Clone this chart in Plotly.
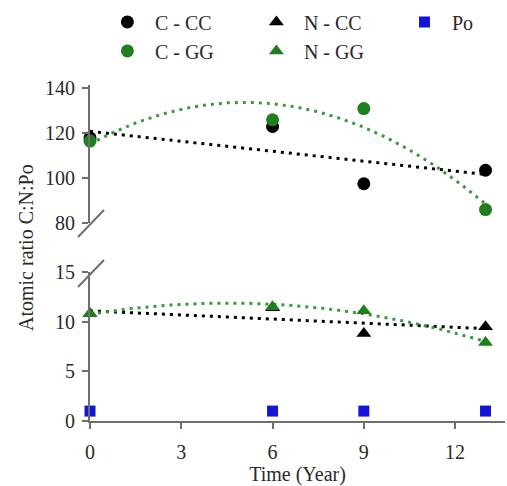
import numpy as np
import plotly.graph_objects as go

years = [0, 6, 9, 13]
c_cc = [118, 123, 97.5, 103.5]
c_gg = [116.5, 126, 131, 86]
n_cc = [10.8, 11.4, 8.8, 9.5]
n_gg = [10.8, 11.5, 11.1, 7.9]
po = [1.0, 1.0, 1.0, 1.0]

BLACK = "#000000"
GREEN = "#1f7f1f"
GREEN_LINE = "#3a9a3a"
BLUE = "#1515d8"
AXC = "#6e6e6e"
FONT = "Liberation Serif, Times New Roman, serif"
TXT = "#2a2a2a"
FS = 20

W, H = 507, 486
ML, MR, MT, MB = 90, 2, 85, 65
PW, PH = W - ML - MR, H - MT - MB
lower_top = (421 - 272) / PH
upper_bot = (421 - 223) / PH

fig = go.Figure()

xs = np.linspace(0, 13, 200)
def fit(vals, deg):
    p = np.polyfit(years, vals, deg)
    return np.polyval(p, xs)

dot = "3px,5px"
fig.add_trace(go.Scatter(x=xs, y=fit(c_cc, 1), mode="lines", yaxis="y2",
                         line=dict(color=BLACK, width=3, dash=dot), showlegend=False, hoverinfo="skip"))
fig.add_trace(go.Scatter(x=xs, y=fit(c_gg, 2), mode="lines", yaxis="y2",
                         line=dict(color=GREEN_LINE, width=3, dash=dot), showlegend=False, hoverinfo="skip"))
fig.add_trace(go.Scatter(x=xs, y=fit(n_cc, 1), mode="lines", yaxis="y",
                         line=dict(color=BLACK, width=3, dash=dot), showlegend=False, hoverinfo="skip"))
fig.add_trace(go.Scatter(x=xs, y=fit(n_gg, 2), mode="lines", yaxis="y",
                         line=dict(color=GREEN_LINE, width=3, dash=dot), showlegend=False, hoverinfo="skip"))

fig.add_trace(go.Scatter(x=years, y=c_cc, mode="markers", name="C - CC", yaxis="y2", cliponaxis=False,
                         marker=dict(symbol="circle", size=13, color=BLACK), legend="legend"))
fig.add_trace(go.Scatter(x=years, y=n_cc, mode="markers", name="N - CC", yaxis="y", cliponaxis=False,
                         marker=dict(symbol="triangle-up", size=13, color=BLACK), legend="legend"))
fig.add_trace(go.Scatter(x=years, y=po, mode="markers", name="Po", yaxis="y", cliponaxis=False,
                         marker=dict(symbol="square", size=11, color=BLUE), legend="legend2"))
fig.add_trace(go.Scatter(x=years, y=c_gg, mode="markers", name="C - GG", yaxis="y2", cliponaxis=False,
                         marker=dict(symbol="circle", size=13, color=GREEN), legend="legend"))
fig.add_trace(go.Scatter(x=years, y=n_gg, mode="markers", name="N - GG", yaxis="y", cliponaxis=False,
                         marker=dict(symbol="triangle-up", size=13, color=GREEN), legend="legend"))

def px2paper(px, py):
    return (px - ML) / PW, (H - MB - py) / PH

shapes = []
for (x0, y0, x1, y1) in [(78, 237, 104, 210), (78, 287, 104, 260)]:
    a = px2paper(x0, y0)
    b = px2paper(x1, y1)
    shapes.append(dict(type="line", xref="paper", yref="paper", x0=a[0], y0=a[1], x1=b[0], y1=b[1],
                       line=dict(color=AXC, width=2)))

axis_common = dict(showline=True, linecolor=AXC, linewidth=2, ticks="outside", ticklen=6,
                   tickcolor=AXC, tickwidth=2, showgrid=False, zeroline=False,
                   tickfont=dict(family=FONT, size=FS, color=TXT))

legend_common = dict(orientation="h", xref="container", yref="container", yanchor="top",
                     xanchor="left", font=dict(family=FONT, size=FS, color=TXT),
                     traceorder="normal", bgcolor="rgba(0,0,0,0)", itemwidth=45)

fig.update_layout(
    width=W, height=H,
    margin=dict(l=ML, r=MR, t=MT, b=MB),
    plot_bgcolor="white", paper_bgcolor="white",
    font=dict(family=FONT, size=FS, color=TXT),
    xaxis=dict(range=[0, 13.64], tickvals=[0, 3, 6, 9, 12], anchor="y", ticklabelstandoff=6,
               title=dict(text="Time (Year)", standoff=0, font=dict(family=FONT, size=FS, color=TXT)),
               **axis_common),
    yaxis=dict(domain=[0, lower_top], range=[0, 15], tickvals=[0, 5, 10, 15], ticklabelstandoff=3,
               **axis_common),
    yaxis2=dict(domain=[upper_bot, 1], range=[80, 141.5], tickvals=[80, 100, 120, 140], anchor="x",
                ticklabelstandoff=3, **axis_common),
    shapes=shapes,
    annotations=[dict(text="Atomic ratio C:N:Po", xref="paper", yref="paper", x=(26 - ML) / PW,
                      y=(H - MB - 248) / PH,
                      textangle=-90, showarrow=False, xanchor="center", yanchor="middle",
                      font=dict(family=FONT, size=FS, color=TXT))],
    legend=dict(x=0.197, y=0.995, entrywidth=89, entrywidthmode="pixels", **legend_common),
    legend2=dict(x=0.783, y=0.995, **legend_common),
    showlegend=True,
)

fig.write_html("out.html")
